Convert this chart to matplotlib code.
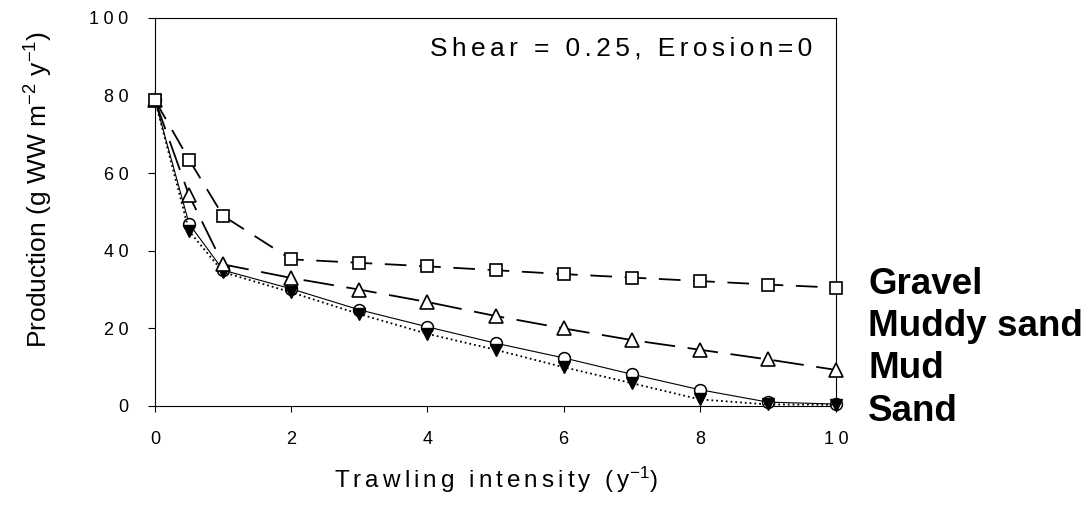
import numpy as np
import matplotlib
matplotlib.use("Agg")
import matplotlib.pyplot as plt
import matplotlib.transforms as mtransforms

plt.rcParams['font.family'] = ['Liberation Sans', 'DejaVu Sans']
plt.rcParams['mathtext.fontset'] = 'custom'
plt.rcParams['mathtext.rm'] = 'Liberation Sans'
plt.rcParams['mathtext.it'] = 'Liberation Sans:italic'
plt.rcParams['mathtext.bf'] = 'Liberation Sans:bold'

# ============== Data ==============

intensity = [0, 0.5, 1, 2, 3, 4, 5, 6, 7, 8, 9, 10]

prod_square = [78.8, 63.5, 49.0, 37.8, 36.9, 36.0, 35.0, 34.0, 33.1, 32.2, 31.3, 30.5]
prod_triangle = [78.8, 54.3, 36.5, 33.0, 30.0, 26.8, 23.2, 20.0, 17.0, 14.5, 12.0, 9.3]
prod_circle = [78.8, 47.0, 35.0, 30.2, 24.8, 20.4, 16.2, 12.4, 8.2, 4.2, 1.0, 0.5]
prod_dtriangle = [78.8, 45.1, 34.5, 29.3, 23.7, 18.6, 14.5, 10.0, 5.9, 1.7, 0.4, 0.3]

site_labels = ["Gravel", "Muddy sand", "Mud", "Sand"]
site_label_y = [31.2, 20.4, 9.6, -1.4]

x_ticks = [0, 2, 4, 6, 8, 10]
y_ticks = [0, 20, 40, 60, 80, 100]


def spaced(s, gap='\u2006'):
    """Crude letter spacing: put a narrow space between characters."""
    return gap.join(s)


fig = plt.figure(figsize=(10.88, 5.07), dpi=100)
ax = fig.add_axes([155 / 1088, 101 / 507, 681 / 1088, 388 / 507])

# circles first so the filled triangles sit on top of them
ax.plot(intensity, prod_circle, '-', color='black', lw=0.8,
        marker='o', ms=8.5, mfc='white', mec='black', mew=1.1, clip_on=False, zorder=3)
ax.plot(intensity, prod_dtriangle, ':', color='black', lw=1.3,
        marker='v', ms=9, mfc='black', mec='black', mew=1.0, clip_on=False, zorder=4)
ax.plot(intensity, prod_triangle, color='black', lw=1.3, dashes=(17, 7),
        marker='^', ms=9.5, mfc='white', mec='black', mew=1.2, clip_on=False, zorder=5)
ax.plot(intensity, prod_square, color='black', lw=1.3, dashes=(12, 7),
        marker='s', ms=8, mfc='white', mec='black', mew=1.2, clip_on=False, zorder=6)

ax.set_xlim(0, 10)
ax.set_ylim(0, 100)
ax.set_xticks(x_ticks)
ax.set_yticks(y_ticks)
ax.set_xticklabels([spaced(str(t), '\u2005') for t in x_ticks])
ax.set_yticklabels([spaced(str(t), '\u2005') for t in y_ticks])
ax.tick_params(direction='out', labelsize=13, width=0.8, color='black')
ax.tick_params(axis='y', length=5, pad=14)
ax.tick_params(axis='x', length=4, pad=14)
for sp in ax.spines.values():
    sp.set_linewidth(0.8)

ax.text(-0.17, 0.557, r"Production (g WW m$^{-2}$ y$^{-1}$)", rotation=90,
        ha='center', va='center', fontsize=19, transform=ax.transAxes)
ax.text(0.5, -0.19, spaced("Trawling intensity (y") + r"$^{-1}$" + ")",
        ha='center', va='center', fontsize=17.5, transform=ax.transAxes)
ax.text(0.965, 0.921, spaced("Shear = 0.25, Erosion=0"),
        ha='right', va='center', fontsize=19, transform=ax.transAxes)

trans = mtransforms.blended_transform_factory(ax.transAxes, ax.transData)
for lab, yy in zip(site_labels, site_label_y):
    ax.text(1.047, yy, lab, ha='left', va='center', fontsize=26.5,
            fontweight='bold', transform=trans, clip_on=False)

fig.savefig("out.png", dpi=100)
